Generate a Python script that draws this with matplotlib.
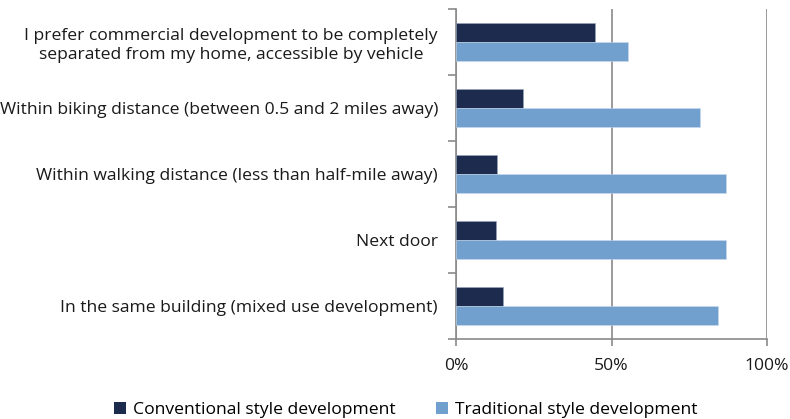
import matplotlib
matplotlib.use("Agg")
import matplotlib.pyplot as plt
from matplotlib.patches import Patch
from matplotlib.ticker import FuncFormatter
import numpy as np

categories = [
    "I prefer commercial development to be completely\nseparated from my home, accessible by vehicle",
    "Within biking distance (between 0.5 and 2 miles away)",
    "Within walking distance (less than half-mile away)",
    "Next door",
    "In the same building (mixed use development)",
]
conventional = [44.7, 21.5, 13.2, 12.8, 15.1]
traditional = [55.4, 78.6, 86.9, 86.9, 84.4]
series_names = ["Conventional style development", "Traditional style development"]
xticks = [0, 50, 100]

c_conv = "#1C2B4E"
c_trad = "#71A0CF"
gray = "#8A8A8A"
txt = "#1a1a1a"
fs = 12.6

plt.rcParams['font.family'] = ['Open Sans', 'DejaVu Sans']

fig = plt.figure(figsize=(7.9, 4.19), dpi=100)
ax = fig.add_axes([456/790, 1-339/419, (767-456)/790, (339-9)/419])

y = np.arange(len(categories))
h = 0.29
ax.barh(y - h/2, conventional, height=h, color=c_conv, edgecolor="#9aa6bd", linewidth=0.4, zorder=3)
ax.barh(y + h/2, traditional, height=h, color=c_trad, edgecolor="#c9d9ec", linewidth=0.4, zorder=3)

ax.set_ylim(len(categories) - 0.5, -0.5)
ax.set_xlim(0, 100)
ax.set_xticks(xticks)
ax.xaxis.set_major_formatter(FuncFormatter(lambda v, p: f"{int(v)}%"))
ax.set_yticks(np.arange(len(categories) + 1) - 0.5, minor=False)
ax.set_yticklabels([])
ax.set_yticks(y, minor=True)
ax.set_yticklabels(categories, minor=True, fontsize=fs, color=txt)
for lab in ax.get_yticklabels(minor=True):
    lab.set_ha("right")
    lab.set_multialignment("center")
    lab.set_linespacing(1.25)
ax.tick_params(axis='y', which='minor', length=0, pad=13)
ax.tick_params(axis='y', which='major', length=6, color=gray, width=1.2, direction='out')
ax.tick_params(axis='x', length=5, color=gray, width=1.2, direction='out', labelsize=fs, pad=9, labelcolor=txt)

ax.grid(axis='x', color=gray, linewidth=1.2, zorder=0)
for s in ["top", "right"]:
    ax.spines[s].set_visible(False)
for s in ["left", "bottom"]:
    ax.spines[s].set_color(gray)
    ax.spines[s].set_linewidth(1.2)

handles = [Patch(facecolor=c_conv), Patch(facecolor=c_trad)]
fig.legend(handles, series_names, loc="lower center", bbox_to_anchor=(0.514, -0.035), ncol=2,
           frameon=False, fontsize=fs, handlelength=0.7, handleheight=0.7,
           handletextpad=0.4, columnspacing=2.3)

fig.savefig("out.png", dpi=100)
